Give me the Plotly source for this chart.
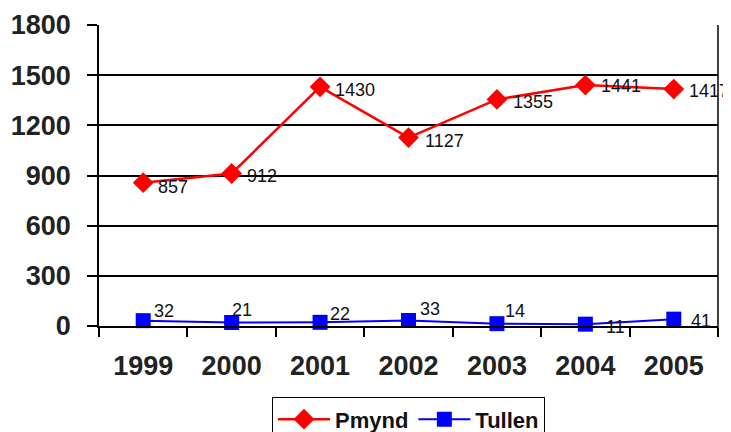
import plotly.graph_objects as go

years = ["1999", "2000", "2001", "2002", "2003", "2004", "2005"]
pmynd = [857, 912, 1430, 1127, 1355, 1441, 1417]
tullen = [32, 21, 22, 33, 14, 11, 41]
y_ticks = [0, 300, 600, 900, 1200, 1500, 1800]

# label offsets (pixels) relative to each marker
p_dx = [13, 13, 13, 14, 14, 14, 13]
p_dy = [-4, -3, -3, -3, -3, -1, -2]
t_dx = [9, -2, 8, 9, 6, 19, 15]
t_dy = [10, 12, 8, 11, 13, -3, -2]

LBL = dict(family="Liberation Sans, Arial", size=18, color="#111")
TICK = dict(size=27, family="Liberation Sans, Arial", color="#222", weight="bold")

fig = go.Figure()
fig.add_trace(go.Scatter(
    x=years, y=pmynd, name="Pmynd", mode="lines+markers",
    line=dict(color="#FF0000", width=2.5),
    marker=dict(symbol="diamond", size=16, color="#FF0000"),
    cliponaxis=False,
))
fig.add_trace(go.Scatter(
    x=years, y=tullen, name="Tullen", mode="lines+markers",
    line=dict(color="#0000FF", width=2),
    marker=dict(symbol="square", size=15, color="#0000FF"),
    cliponaxis=False,
))

anns = []
for i, (v, dx, dy) in enumerate(zip(pmynd, p_dx, p_dy)):
    anns.append(dict(x=i, y=v, xref="x", yref="y", text=str(v), showarrow=False,
                     xanchor="left", yanchor="middle", xshift=dx, yshift=dy, font=LBL))
for i, (v, dx, dy) in enumerate(zip(tullen, t_dx, t_dy)):
    anns.append(dict(x=i, y=v, xref="x", yref="y", text=str(v), showarrow=False,
                     xanchor="left", yanchor="middle", xshift=dx, yshift=dy, font=LBL))

fig.update_layout(
    width=723, height=424,
    margin=dict(l=91, r=13, t=17, b=106, autoexpand=False),
    plot_bgcolor="white", paper_bgcolor="white",
    font=dict(family="Liberation Sans, Arial", color="#222"),
    legend=dict(orientation="h", x=0.5, xanchor="center", y=-0.237, yanchor="top",
                bordercolor="black", borderwidth=1,
                font=dict(size=22, family="Liberation Sans, Arial", color="#111",
                          weight="bold"),
                itemwidth=52),
    showlegend=True,
    annotations=anns,
)
fig.update_xaxes(
    type="category", tickson="boundaries", ticks="outside", ticklen=9,
    tickcolor="black", tickwidth=1.5,
    showline=True, linecolor="black", linewidth=1.5, mirror=False,
    showgrid=False, automargin=False, ticklabelstandoff=15,
    tickfont=TICK,
    range=[-0.5, 6.5],
)
fig.update_yaxes(
    range=[0, 1800], tickvals=y_ticks, ticktext=[str(v) for v in y_ticks],
    ticks="outside", ticklen=10, tickcolor="black", tickwidth=1.5,
    showline=True, linecolor="black", linewidth=1.5,
    showgrid=True, gridcolor="black", gridwidth=1.5,
    zeroline=False, automargin=False, ticklabelstandoff=11,
    tickfont=TICK,
)
# right border line
fig.add_shape(type="line", xref="paper", yref="paper", x0=1, x1=1, y0=-0.03, y1=1,
              line=dict(color="black", width=1.5))

fig.write_html("out.html")
